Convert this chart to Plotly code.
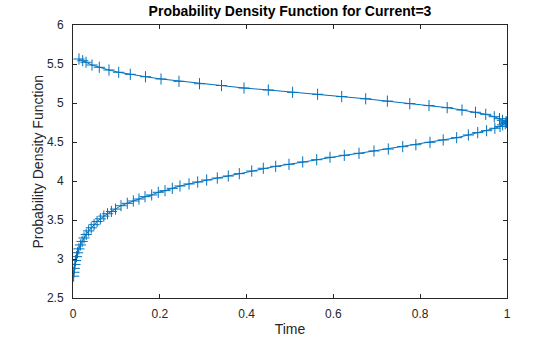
import plotly.graph_objects as go

# Lower branch (from bottom up to x=1)
x_lower = [0.0015, 0.002, 0.003, 0.0045, 0.006, 0.008, 0.0105, 0.0135, 0.017, 0.021,
           0.0255, 0.0305, 0.036, 0.042, 0.0485, 0.0555, 0.063, 0.071, 0.0795, 0.0885,
           0.098, 0.1106, 0.1251, 0.139, 0.152, 0.166, 0.1813, 0.1965, 0.212, 0.2288,
           0.2465, 0.2673, 0.2873, 0.308, 0.3325, 0.3578, 0.3832, 0.4118, 0.4385, 0.467,
           0.4977, 0.5293, 0.5615, 0.5922, 0.6251, 0.659, 0.6935, 0.7265, 0.7597, 0.79,
           0.8226, 0.853, 0.884, 0.911, 0.9325, 0.953, 0.972, 0.984, 0.990, 0.996, 0.999]
y_lower = [2.78, 2.83, 2.88, 2.93, 2.98, 3.03, 3.08, 3.13, 3.18, 3.225,
           3.27, 3.315, 3.36, 3.40, 3.44, 3.48, 3.515, 3.55, 3.58, 3.61,
           3.64, 3.683, 3.714, 3.744, 3.769, 3.799, 3.821, 3.855, 3.876, 3.906,
           3.936, 3.962, 3.987, 4.013, 4.038, 4.064, 4.094, 4.128, 4.163, 4.188,
           4.214, 4.244, 4.273, 4.304, 4.329, 4.355, 4.385, 4.41, 4.44, 4.465,
           4.496, 4.526, 4.555, 4.59, 4.62, 4.645, 4.676, 4.70, 4.72, 4.735, 4.75]

# Upper branch (from x=1 back to the left)
x_upper = [0.9977, 0.9896, 0.9827, 0.9707, 0.951, 0.9274, 0.8963, 0.8622, 0.8203, 0.776,
           0.7244, 0.6744, 0.6191, 0.5636, 0.506, 0.45, 0.394, 0.3422, 0.2915, 0.2442,
           0.2028, 0.167, 0.132, 0.1053, 0.0829, 0.0606, 0.0438, 0.03, 0.0224, 0.0138]
y_upper = [4.76, 4.778, 4.799, 4.824, 4.855, 4.881, 4.910, 4.940, 4.967, 4.992,
           5.024, 5.054, 5.082, 5.112, 5.137, 5.167, 5.192, 5.224, 5.247, 5.278,
           5.308, 5.337, 5.368, 5.394, 5.423, 5.458, 5.487, 5.522, 5.542, 5.564]

x_ticks = [0, 0.2, 0.4, 0.6, 0.8, 1]
y_ticks = [2.5, 3, 3.5, 4, 4.5, 5, 5.5, 6]

x_all = x_lower + x_upper
y_all = y_lower + y_upper

blue = "#0072BD"
axcol = "#262626"
font = "Liberation Sans, Arial, sans-serif"

fig = go.Figure()
fig.add_trace(go.Scatter(
    x=x_all, y=y_all, mode="lines+markers",
    line=dict(color=blue, width=1),
    marker=dict(symbol="cross-thin", size=8, line=dict(color=blue, width=1), color=blue),
    showlegend=False,
))

axis_common = dict(
    showgrid=False, zeroline=False, showline=True, mirror="ticks",
    linecolor=axcol, linewidth=1, ticks="inside", ticklen=4, tickcolor=axcol,
    tickfont=dict(family=font, size=12, color=axcol), automargin=False,
)
fig.update_xaxes(range=[0, 1], tickvals=x_ticks, ticktext=[f"{v:g}" for v in x_ticks],
                 ticklabelstandoff=5,
                 title=dict(text="Time", font=dict(family=font, size=14, color=axcol), standoff=7),
                 **axis_common)
fig.update_yaxes(range=[2.5, 6], tickvals=y_ticks, ticktext=[f"{v:g}" for v in y_ticks],
                 ticklabelstandoff=6,
                 **axis_common)

fig.add_annotation(text="Probability Density Function", textangle=-90,
                   xref="paper", yref="paper", x=(37 - 73) / 434, y=0.5,
                   xanchor="center", yanchor="middle", showarrow=False,
                   font=dict(family=font, size=14, color=axcol))

fig.update_layout(
    width=560, height=337,
    margin=dict(l=73, r=53, t=25, b=39),
    paper_bgcolor="white", plot_bgcolor="white",
    title=dict(text="<b>Probability Density Function for Current=3</b>",
               font=dict(family=font, size=14, color="#000000"),
               x=(73 + 507) / 2 / 560, xanchor="center", y=1 - 11 / 337, yanchor="middle"),
)

fig.write_html("out.html")
